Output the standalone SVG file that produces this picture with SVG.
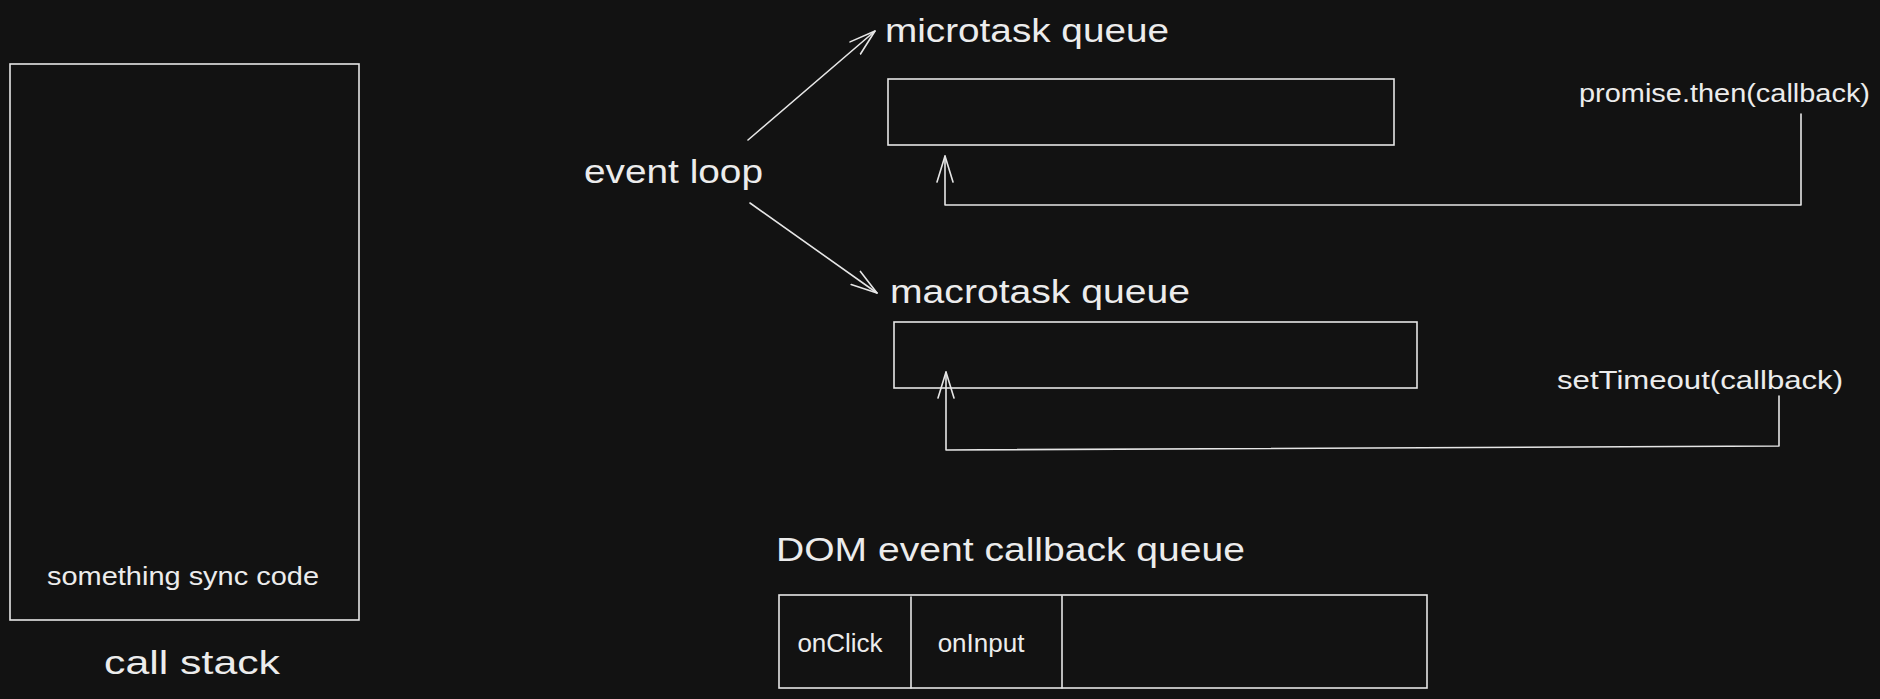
<svg xmlns="http://www.w3.org/2000/svg" width="1880" height="699" viewBox="0 0 1880 699">
<defs>
<style>
.bg{fill:#121212}
.box{fill:none;stroke:#e6e6e6;stroke-width:1.6}
.ln{fill:none;stroke:#e6e6e6;stroke-width:1.6;stroke-linecap:round;stroke-linejoin:round}
.t{fill:#ececec;font-family:"Liberation Sans","DejaVu Sans",sans-serif}
.big{font-size:34px}
.sm{font-size:26px}
</style>
<marker id="ah" viewBox="0 0 30 20" refX="27" refY="10" markerWidth="30" markerHeight="20" markerUnits="userSpaceOnUse" orient="auto">
<path d="M1,2 L27,10 L1,18" fill="none" stroke="#e6e6e6" stroke-width="1.6" stroke-linecap="round" stroke-linejoin="round"/>
</marker>
</defs>
<rect class="bg" x="0" y="0" width="1880" height="699"/>

<g id="callstack">
<rect class="box" x="10" y="64" width="349" height="556"/>
<text class="t sm" x="183" y="585" text-anchor="middle" textLength="272" lengthAdjust="spacingAndGlyphs">something sync code</text>
</g>
<g id="callstack-label">
<text class="t big" x="192" y="674" text-anchor="middle" textLength="176" lengthAdjust="spacingAndGlyphs">call stack</text>
</g>

<g id="eventloop">
<text class="t big" x="584" y="183" textLength="179" lengthAdjust="spacingAndGlyphs">event loop</text>
</g>

<g id="microtask-label">
<text class="t big" x="885" y="42" textLength="284" lengthAdjust="spacingAndGlyphs">microtask queue</text>
</g>
<g id="microtask-queue">
<rect class="box" x="888" y="79" width="506" height="66"/>
</g>
<g id="promise">
<text class="t sm" x="1579" y="102" textLength="291" lengthAdjust="spacingAndGlyphs">promise.then(callback)</text>
</g>

<g id="macrotask-label">
<text class="t big" x="890" y="303" textLength="300" lengthAdjust="spacingAndGlyphs">macrotask queue</text>
</g>
<g id="macrotask-queue">
<rect class="box" x="894" y="322" width="523" height="66"/>
</g>
<g id="settimeout">
<text class="t sm" x="1557" y="389" textLength="286" lengthAdjust="spacingAndGlyphs">setTimeout(callback)</text>
</g>

<g id="dom-label">
<text class="t big" x="776" y="561" textLength="469" lengthAdjust="spacingAndGlyphs">DOM event callback queue</text>
</g>
<g id="dom-queue">
<rect class="box" x="779" y="595" width="648" height="93"/>
<line class="ln" x1="911" y1="597" x2="911" y2="688"/>
<line class="ln" x1="1062" y1="596" x2="1062" y2="688"/>
<text class="t sm" x="840" y="652" text-anchor="middle">onClick</text>
<text class="t sm" x="981" y="652" text-anchor="middle">onInput</text>
</g>

<g id="connectors">
<path class="ln" d="M748,140 L875,31" marker-end="url(#ah)"/>
<path class="ln" d="M750,203 L877,293" marker-end="url(#ah)"/>
<path class="ln" d="M1801,114 L1801,205 L945,205 L945,156" marker-end="url(#ah)"/>
<path class="ln" d="M1779,396 L1779,446 L946,450 L946,372" marker-end="url(#ah)"/>
</g>
</svg>
